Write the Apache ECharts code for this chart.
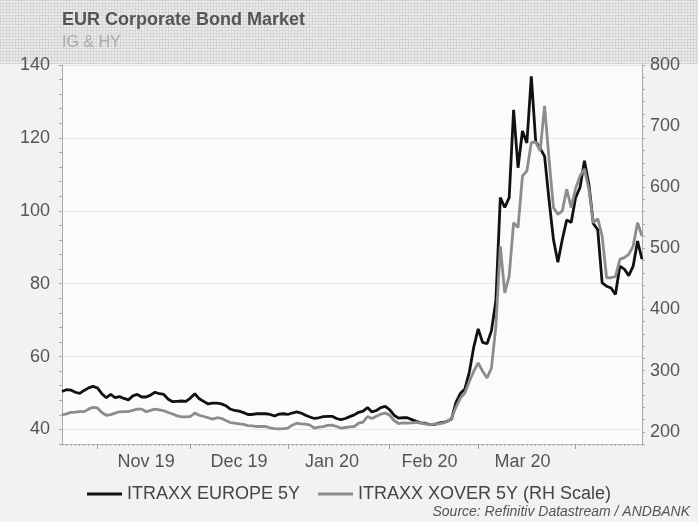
<!DOCTYPE html>
<html>
<head>
<meta charset="utf-8">
<script src="https://cdn.jsdelivr.net/npm/echarts@6/dist/echarts.min.js"></script>
<style>
html,body{margin:0;padding:0;background:#f2f2f2;}
#chart{width:698px;height:522px;}
</style>
</head>
<body>
<div id="chart"></div>
<script>
// ---------- data ----------
const startDate = '2019-10-22';
const endDate = '2020-04-22';
const seriesNames = ['ITRAXX EUROPE 5Y', 'ITRAXX XOVER 5Y (RH Scale)'];
const monthLabelDates = ['2019-11-18', '2019-12-17', '2020-01-15', '2020-02-14', '2020-03-16'];
const monthLabels = ['Nov 19', 'Dec 19', 'Jan 20', 'Feb 20', 'Mar 20'];
const leftTickLabels = [40, 60, 80, 100, 120, 140];
const rightTickLabels = [200, 300, 400, 500, 600, 700, 800];

const europe5y = [
  50.4, 50.9, 50.8, 50.2, 49.9, 50.7, 51.4, 51.8, 51.4, 49.8,
  48.7, 49.6, 48.7, 49.0, 48.5, 48.1, 49.2, 49.6, 48.9, 48.9,
  49.4, 50.2, 49.8, 49.6, 48.3, 47.6, 47.7, 47.8, 47.7, 48.6,
  49.8, 48.4, 47.7, 47.0, 47.2, 47.2, 47.0, 46.5, 45.6, 45.2,
  45.0, 44.6, 44.1, 44.1, 44.3, 44.3, 44.3, 44.1, 43.7, 44.2,
  44.3, 44.1, 44.5, 44.8, 44.5, 43.9, 43.4, 43.0, 43.2, 43.5,
  43.6, 43.6, 43.0, 42.7, 43.0, 43.5, 44.0, 44.7, 45.0, 46.0,
  44.8, 45.2, 46.0, 46.3, 45.4, 43.9, 43.1, 43.2, 43.2, 42.7,
  42.2, 41.8, 41.7, 41.3, 41.3, 41.7, 41.9, 42.2, 42.9, 47.5,
  49.9, 51.1, 55.7, 62.6, 67.6, 63.9, 63.5, 67.1, 75.3, 103.6,
  100.9, 103.6, 127.7, 111.8, 121.9, 118.6, 136.9, 118.9, 117.2, 114.9,
  103.0, 92.1, 85.9, 92.1, 97.5, 96.8, 103.6, 106.4, 113.7, 107.3,
  96.5, 94.8, 80.2, 79.3, 78.8, 77.0, 84.8, 84.0, 82.2, 84.8,
  91.7, 86.7
];

const xover5y = [
  227.8, 229.4, 231.6, 232.0, 233.0, 233.0, 237.0, 240.0, 239.0, 231.6,
  227.0, 228.0, 230.5, 232.7, 233.0, 233.0, 235.0, 237.0, 237.0, 232.7,
  235.0, 237.0, 236.0, 234.4, 231.6, 229.0, 226.0, 224.5, 224.5, 225.0,
  230.5, 227.0, 225.0, 223.0, 220.6, 223.0, 222.0, 218.5, 215.0, 214.0,
  213.0, 212.0, 210.0, 209.7, 208.6, 208.6, 208.6, 206.4, 205.3, 204.8,
  205.3, 206.0, 210.8, 214.0, 213.0, 212.4, 210.8, 205.9, 207.5, 208.6,
  210.3, 210.8, 208.6, 205.9, 207.0, 208.0, 208.6, 214.0, 215.7, 225.0,
  221.7, 225.5, 228.8, 230.5, 227.2, 218.4, 213.5, 214.6, 214.0, 214.6,
  215.2, 214.0, 213.1, 211.5, 212.6, 213.1, 214.2, 216.9, 222.4, 240.4,
  255.4, 263.4, 282.5, 299.0, 312.6, 299.0, 288.0, 304.4, 372.7, 503.8,
  427.3, 454.6, 542.0, 533.9, 618.5, 626.7, 673.3, 674.0, 659.5, 733.3,
  646.0, 566.7, 555.7, 561.2, 596.7, 566.7, 598.0, 618.6, 630.0, 596.7,
  542.0, 548.6, 520.2, 452.0, 452.0, 453.6, 482.0, 484.8, 490.2, 503.8,
  542.0, 520.2
];

// ---------- weekday categories ----------
function weekdays(s, e) {
  const out = [];
  const d = new Date(s + 'T00:00:00Z');
  const end = new Date(e + 'T00:00:00Z');
  while (d <= end) {
    const wd = d.getUTCDay();
    if (wd !== 0 && wd !== 6) out.push(d.toISOString().slice(0, 10));
    d.setUTCDate(d.getUTCDate() + 1);
  }
  return out;
}
const categories = weekdays(startDate, endDate);
const labelMap = {};
monthLabelDates.forEach((d, i) => { labelMap[d] = monthLabels[i]; });
const monthStart = categories.map((d, i) => i > 0 && d.slice(5, 7) !== categories[i - 1].slice(5, 7));

// header texture
const pat = document.createElement('canvas');
pat.width = 3; pat.height = 3;
const pc = pat.getContext('2d');
pc.fillStyle = '#ebebeb'; pc.fillRect(0, 0, 3, 3);
pc.fillStyle = '#d6d6d6'; pc.fillRect(0, 0, 3, 1); pc.fillRect(0, 0, 1, 3);

const FONT = 'Liberation Sans, Arial, Helvetica, sans-serif';
const chart = echarts.init(document.getElementById('chart'), null, { renderer: 'canvas' });

chart.setOption({
  animation: false,
  backgroundColor: '#f2f2f2',
  textStyle: { fontFamily: FONT },
  title: {
    text: 'EUR Corporate Bond Market',
    subtext: 'IG & HY',
    left: 57, top: 6,
    itemGap: 6,
    textStyle: { fontFamily: FONT, fontSize: 18, fontWeight: 'bold', color: '#555' },
    subtextStyle: { fontFamily: FONT, fontSize: 16, color: '#aaa' }
  },
  graphic: [
    { type: 'rect', z: -10, shape: { x: 0, y: 0, width: 698, height: 64 },
      style: { fill: { image: pat, repeat: 'repeat' } } },
    { type: 'text', right: 8, top: 505, z: 10,
      style: { text: 'Source: Refinitiv Datastream / ANDBANK', fill: '#555',
               font: 'italic 14px ' + FONT } }
  ],
  legend: {
    data: seriesNames,
    left: 82, top: 480,
    icon: 'rect', itemWidth: 35, itemHeight: 3, itemGap: 18,
    textStyle: { fontFamily: FONT, fontSize: 18, color: '#444' }
  },
  grid: { left: 62, right: 56, top: 65, bottom: 78, show: true, backgroundColor: '#fbfbfb', borderWidth: 0 },
  xAxis: [
    {
      type: 'category', data: categories, boundaryGap: false,
      axisLine: { show: true, lineStyle: { color: '#bbb' } },
      axisTick: { show: true, interval: 0, length: 2, lineStyle: { color: '#aaa' } },
      axisLabel: {
        interval: (i, v) => labelMap[v] !== undefined,
        formatter: v => labelMap[v] || '',
        color: '#555', fontSize: 18, margin: 9, fontFamily: FONT
      },
      splitLine: { show: false }
    },
    {
      type: 'category', data: categories, boundaryGap: false, position: 'bottom',
      axisLine: { show: false },
      axisTick: { show: true, interval: (i) => monthStart[i], length: 5, lineStyle: { color: '#999' } },
      axisLabel: { show: false },
      splitLine: { show: false }
    }
  ],
  yAxis: [
    {
      type: 'value', position: 'left', min: 36, max: 140, interval: 4,
      axisLine: { show: true, lineStyle: { color: '#aaa' } },
      axisTick: { show: true, length: 3, lineStyle: { color: '#aaa' } },
      axisLabel: {
        formatter: v => leftTickLabels.indexOf(v) >= 0 ? String(v) : '',
        color: '#555', fontSize: 18, margin: 12, fontFamily: FONT
      },
      splitLine: { show: true, lineStyle: { color: ['rgba(0,0,0,0)', '#e6e6e6', 'rgba(0,0,0,0)', 'rgba(0,0,0,0)', 'rgba(0,0,0,0)'], width: 1 } }
    },
    {
      type: 'value', position: 'right', min: 180, max: 800, interval: 20,
      axisLine: { show: true, lineStyle: { color: '#aaa' } },
      axisTick: { show: true, length: 3, lineStyle: { color: '#aaa' } },
      axisLabel: {
        formatter: v => rightTickLabels.indexOf(v) >= 0 ? String(v) : '',
        color: '#555', fontSize: 18, margin: 8, fontFamily: FONT
      },
      splitLine: { show: false }
    }
  ],
  series: [
    {
      name: seriesNames[0], type: 'line', data: europe5y,
      xAxisIndex: 0, yAxisIndex: 0,
      showSymbol: false, symbol: 'none',
      lineStyle: { color: '#111', width: 2.8 }, itemStyle: { color: '#111' }
    },
    {
      name: seriesNames[1], type: 'line', data: xover5y,
      xAxisIndex: 0, yAxisIndex: 1,
      showSymbol: false, symbol: 'none',
      lineStyle: { color: '#8c8c8c', width: 2.8 }, itemStyle: { color: '#8c8c8c' }
    }
  ]
});
</script>
</body>
</html>
